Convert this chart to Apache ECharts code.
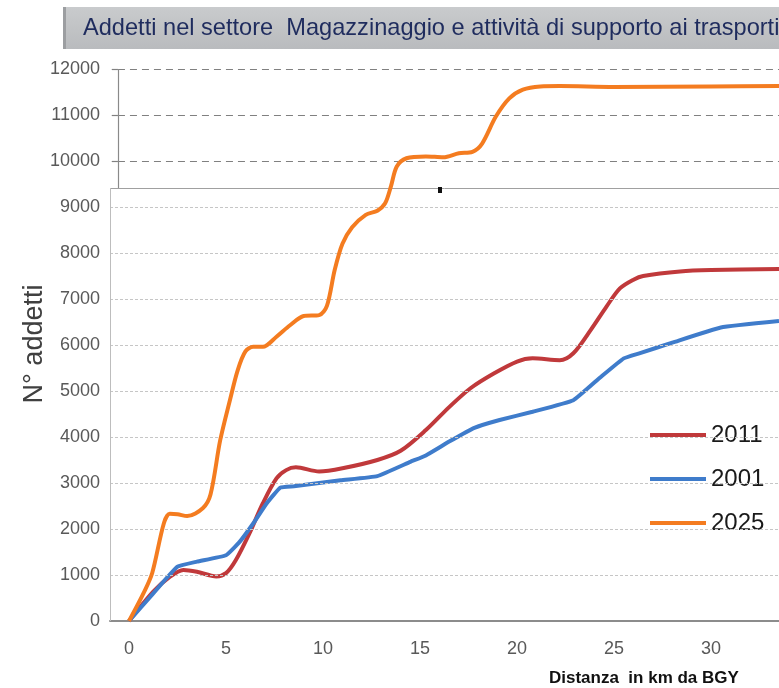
<!DOCTYPE html>
<html>
<head>
<meta charset="utf-8">
<script src="https://cdn.jsdelivr.net/npm/echarts@6/dist/echarts.min.js"></script>
<style>
  html, body { margin: 0; padding: 0; background: #ffffff; }
  #chart { width: 779px; height: 688px; }
</style>
</head>
<body>
<div id="chart"></div>
<script>
// Cumulative employees by distance (km) from BGY airport
const km2011 = [0, 1.25, 2.1, 2.8, 3.5, 4.5, 5.0, 5.5, 6.2, 6.9, 7.6, 8.1, 8.6, 9.8, 11.0, 12.8, 14.0, 15.3, 16.5, 17.6, 18.8, 20.0, 20.8, 22.2, 22.9, 23.8, 24.6, 25.3, 26.0, 26.5, 28.4, 30.0, 33.5];
const val2011 = [0, 640, 960, 1110, 1070, 970, 1040, 1320, 1900, 2560, 3100, 3280, 3340, 3250, 3320, 3500, 3700, 4150, 4650, 5060, 5380, 5640, 5710, 5670, 5820, 6330, 6830, 7230, 7420, 7500, 7600, 7630, 7650];

const km2001 = [0, 1.25, 2.5, 3.5, 5.0, 5.7, 6.4, 7.1, 7.8, 8.5, 10.9, 12.8, 14.5, 15.3, 16.5, 17.8, 19.1, 20.8, 22.9, 24.3, 25.5, 26.3, 28.0, 30.5, 33.5];
const val2001 = [0, 600, 1180, 1290, 1430, 1720, 2120, 2560, 2900, 2930, 3060, 3150, 3460, 3600, 3900, 4200, 4370, 4550, 4800, 5300, 5710, 5820, 6050, 6380, 6520];

const km2025 = [0, 0.8, 1.2, 1.8, 2.1, 2.5, 3.0, 3.8, 4.2, 4.7, 5.2, 5.6, 6.0, 6.4, 6.9, 7.6, 8.3, 9.0, 9.8, 10.2, 10.6, 11.0, 11.5, 12.2, 12.8, 13.2, 13.5, 13.8, 14.3, 15.3, 16.2, 17.0, 17.7, 18.2, 18.9, 19.6, 20.3, 21.2, 22.2, 25.0, 30.0, 33.5];
const val2025 = [0, 650, 1050, 2130, 2330, 2320, 2280, 2450, 2750, 3930, 4800, 5450, 5860, 5960, 5960, 6180, 6430, 6630, 6650, 6850, 7630, 8200, 8560, 8830, 8920, 9080, 9450, 9880, 10060, 10100, 10080, 10170, 10200, 10380, 10960, 11360, 11550, 11620, 11630, 11610, 11620, 11630];

const xTickLabels = [0, 5, 10, 15, 20, 25, 30];
const upperTicks = [10000, 11000, 12000];
const lowerTicks = [1000, 2000, 3000, 4000, 5000, 6000, 7000, 8000, 9000];

const X_MIN = -0.98, X_MAX = 33.5;
const UPPER_AXIS_X = -0.57;   // axis line of the upper frame
const PANEL_TOP = 9413;       // top edge of the lower frame

function pairs(xs, ys) { return xs.map((x, i) => [x, ys[i]]); }

const gridLines = [];
upperTicks.forEach(v => {
  gridLines.push([{ coord: [UPPER_AXIS_X, v], lineStyle: { color: '#808080', type: [7, 5], width: 1.2 } }, { coord: [X_MAX, v] }]);
  gridLines.push([{ coord: [UPPER_AXIS_X - 0.32, v], lineStyle: { color: '#808080', type: 'solid', width: 1.2 } }, { coord: [UPPER_AXIS_X, v] }]);
});
lowerTicks.forEach(v => {
  gridLines.push([{ coord: [X_MIN, v], lineStyle: { color: '#c6c6c6', type: [3, 2], width: 1 } }, { coord: [X_MAX, v] }]);
});
// upper axis line and lower frame border
gridLines.push([{ coord: [UPPER_AXIS_X, 12000], lineStyle: { color: '#8a8a8a', type: 'solid', width: 1.2 } }, { coord: [UPPER_AXIS_X, PANEL_TOP] }]);
gridLines.push([{ coord: [X_MIN, PANEL_TOP], lineStyle: { color: '#a0a0a0', type: 'solid', width: 1 } }, { coord: [X_MAX, PANEL_TOP] }]);
gridLines.push([{ coord: [X_MIN + 0.02, PANEL_TOP], lineStyle: { color: '#bdbdbd', type: 'solid', width: 1 } }, { coord: [X_MIN + 0.02, 0] }]);

const chart = echarts.init(document.getElementById('chart'), null, { renderer: 'canvas' });

chart.setOption({
  animation: false,
  backgroundColor: '#ffffff',
  grid: { left: 110, right: 0, top: 69, bottom: 67 },
  xAxis: {
    type: 'value', min: X_MIN, max: X_MAX,
    axisLine: { show: true, onZero: false, lineStyle: { color: '#8c8c8c', width: 2 } },
    axisTick: { show: false },
    splitLine: { show: false },
    axisLabel: {
      customValues: xTickLabels,
      margin: 19, color: '#595959', fontSize: 18, fontFamily: 'Liberation Sans'
    }
  },
  yAxis: {
    type: 'value', min: 0, max: 12000, interval: 1000,
    axisLine: { show: false }, axisTick: { show: false }, splitLine: { show: false },
    axisLabel: {
      margin: 10, color: '#595959', fontSize: 18, fontFamily: 'Liberation Sans',
      formatter: v => String(v)
    }
  },
  legend: {
    orient: 'vertical', left: 645, top: 418,
    itemWidth: 56, itemHeight: 4, itemGap: 20, icon: 'rect',
    textStyle: { color: '#1a1a1a', fontSize: 24, fontFamily: 'Liberation Sans', padding: [0, 0, 0, 0] },
    data: ['2011', '2001', '2025']
  },
  series: [
    {
      name: '2011', type: 'line', data: pairs(km2011, val2011),
      smooth: 0.3, showSymbol: false, symbol: 'none',
      color: '#c0393b', lineStyle: { width: 4, color: '#c0393b' }, z: 3,
      markLine: {
        silent: true, symbol: ['none', 'none'], label: { show: false },
        emphasis: { disabled: true }, animation: false, data: gridLines
      }
    },
    {
      name: '2001', type: 'line', data: pairs(km2001, val2001),
      smooth: 0.12, showSymbol: false, symbol: 'none',
      color: '#3f7ccb', lineStyle: { width: 4, color: '#3f7ccb' }, z: 4
    },
    {
      name: '2025', type: 'line', data: pairs(km2025, val2025),
      smooth: 0.3, showSymbol: false, symbol: 'none',
      color: '#f47c20', lineStyle: { width: 4, color: '#f47c20' }, z: 5
    }
  ],
  graphic: [
    {
      type: 'rect', left: 63, top: 7, z: 10,
      shape: { width: 716, height: 42 },
      style: {
        fill: new echarts.graphic.LinearGradient(0, 0, 0, 1, [
          { offset: 0, color: '#c9cbcd' }, { offset: 0.5, color: '#c1c3c5' }, { offset: 1, color: '#b9bbbe' }
        ])
      }
    },
    { type: 'rect', left: 63, top: 7, z: 11, shape: { width: 3, height: 42 }, style: { fill: '#9c9ea1' } },
    {
      type: 'text', left: 83, top: 16, z: 12,
      style: {
        text: 'Addetti nel settore  Magazzinaggio e attività di supporto ai trasporti',
        fill: '#1f2c5e', font: '23.6px "Liberation Sans Narrow", "Liberation Sans", sans-serif'
      }
    },
    {
      type: 'text', x: 35, y: 344, rotation: Math.PI / 2, z: 12,
      style: {
        text: 'N° addetti', fill: '#404040', align: 'center', verticalAlign: 'middle',
        font: '27px "Liberation Sans", sans-serif'
      }
    },
    {
      type: 'text', left: 549, top: 670, z: 12,
      style: { text: 'Distanza  in km da BGY', fill: '#111111', font: 'bold 17px "Liberation Sans", sans-serif' }
    },
    { type: 'rect', left: 438, top: 187, z: 12, shape: { width: 4, height: 6 }, style: { fill: '#111111' } }
  ]
});
</script>
</body>
</html>
